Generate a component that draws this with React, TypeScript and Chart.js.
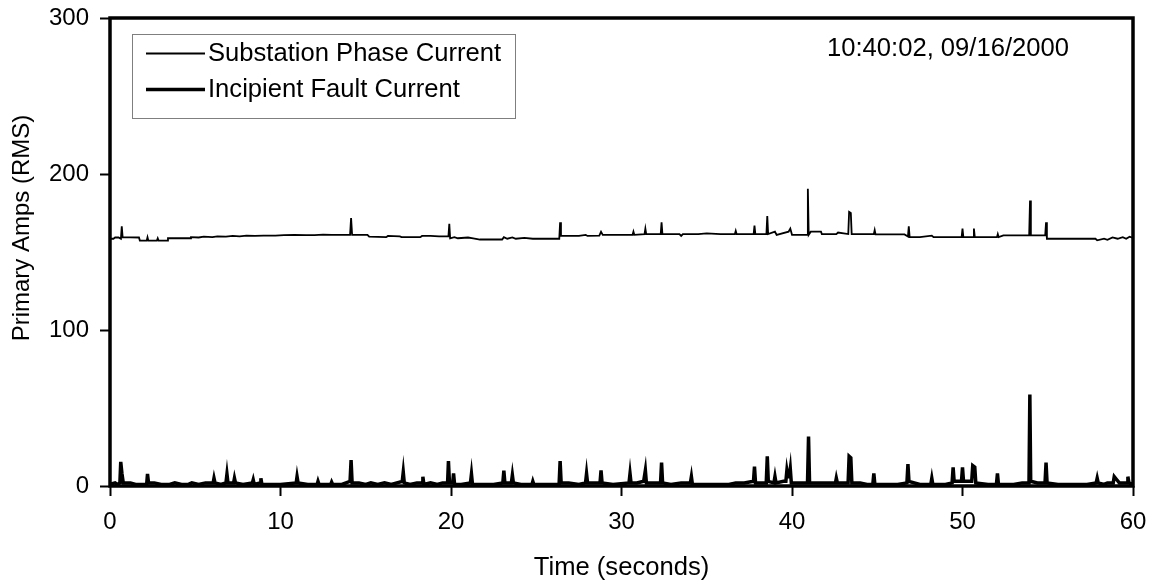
import React, { useEffect, useRef } from "react";
import { Chart, registerables } from "chart.js";

Chart.register(...registerables);

// Substation phase current (time in s, amps RMS)
const subTime = [
  0, 0.2, 0.3, 0.5, 0.64, 0.69, 0.74, 1.7, 1.75, 2.15, 2.2, 2.25, 2.75, 2.8, 2.85, 3.35, 3.4, 4.7, 4.75, 5.2,
  5.5, 6.0, 6.3, 6.8, 7.2, 7.6, 8.0, 8.5, 9.0, 9.7, 10.2, 10.8, 11.5, 12.0, 12.5, 13.0, 13.6, 14.08, 14.14, 14.2,
  15.1, 15.2, 16.2, 16.3, 17.0, 17.1, 18.2, 18.3, 18.8, 19.3, 19.85, 19.9, 19.95, 20.2, 20.4, 21.0, 21.3, 21.7, 23.0, 23.1,
  23.3, 23.6, 23.8, 24.3, 24.8, 26.35, 26.4, 26.45, 27.5, 27.9, 28.0, 28.7, 28.8, 28.9, 30.65, 30.7, 30.75, 31.35, 31.4, 31.45,
  32.3, 32.35, 32.4, 33.4, 33.5, 33.6, 34.5, 35.0, 35.8, 36.65, 36.7, 36.75, 37.75, 37.8, 37.85, 38.5, 38.55, 38.6, 39.0, 39.1,
  39.8, 39.9, 40.0, 40.88, 40.93, 40.98, 41.1, 41.7, 41.75, 42.6, 42.7, 43.3, 43.35, 43.45, 43.5, 44.8, 44.85, 44.9, 46.6, 46.8,
  46.85, 46.9, 47.5, 48.2, 48.3, 49.95, 50.0, 50.05, 50.62, 50.67, 50.72, 52.02, 52.07, 52.12, 52.4, 53.91, 53.96, 54.01, 54.85, 54.9,
  54.95, 57.8, 57.9, 58.3, 58.5, 58.8, 59.1, 59.4, 59.6, 59.8, 60.0,
];
const subAmps = [
  158.5, 158.5, 159.3, 159.3, 158.5, 166.5, 159.5, 159.3, 157.3, 157.3, 159.5, 157.3, 157.3, 158.8, 157.3, 157.3, 158.8, 158.8, 159.5, 159.3,
  159.8, 159.5, 160, 159.8, 160.3, 160, 160.5, 160.3, 160.5, 160.5, 160.8, 161, 160.8, 160.8, 161.2, 161, 161, 161, 171.8, 161,
  161, 159.8, 159.5, 160.3, 160, 159.5, 159.5, 160.3, 160.3, 160, 160, 168, 158.8, 159.5, 158.8, 159.3, 158.8, 158, 158, 159.5,
  158.5, 159.3, 158.5, 159, 158.5, 158.5, 169, 160.3, 160.3, 161, 160.3, 160.5, 163, 161, 161, 163, 161, 161.5, 165, 161.5,
  161.5, 169, 161.5, 161.5, 160.3, 161.5, 161.5, 162, 161.5, 161.5, 163.5, 161.5, 161.5, 167, 161.5, 161.5, 173, 161.5, 163, 161,
  163, 165, 161, 161, 190.6, 161, 163, 163, 161.5, 161.5, 162.5, 161.5, 175.7, 175, 161.5, 161.5, 164, 161.3, 161.3, 160,
  166.5, 159.5, 159.5, 160.5, 159.5, 159.5, 165, 159.5, 159.5, 165, 159.5, 159.5, 161.5, 159.5, 160.6, 160.6, 183, 160.6, 160.6, 169,
  158.5, 158.5, 157.5, 158.5, 157.8, 159.3, 158.5, 159.5, 158.5, 159.8, 159,
];

// Incipient fault current (time in s, amps RMS)
const faultTime = [
  0, 0.3, 0.45, 0.58, 0.63, 0.7, 0.78, 1.2, 1.5, 2.15, 2.2, 2.26, 2.6, 3.0, 3.5, 3.8, 4.2, 4.6, 4.8, 5.2,
  5.6, 6.05, 6.1, 6.16, 6.5, 6.8, 6.86, 6.92, 7.25, 7.3, 7.36, 7.8, 8.35, 8.4, 8.46, 8.8, 8.85, 8.91, 9.5, 10.0,
  10.92, 10.97, 11.03, 11.6, 12.15, 12.2, 12.26, 12.95, 13.0, 13.06, 13.6, 14.08, 14.14, 14.2, 14.6, 15.0, 15.3, 15.7, 16.1, 16.5,
  17.14, 17.2, 17.26, 17.6, 18.0, 18.3, 18.35, 18.41, 18.8, 19.2, 19.5, 19.8, 19.85, 19.91, 20.1, 20.15, 20.21, 20.6, 21.14, 21.2,
  21.26, 21.8, 22.5, 23.04, 23.1, 23.16, 23.54, 23.6, 23.66, 24.1, 24.5, 24.75, 24.8, 24.86, 25.5, 26.34, 26.4, 26.46, 26.9, 27.5,
  27.89, 27.95, 28.01, 28.5, 28.74, 28.8, 28.86, 29.5, 30.44, 30.5, 30.56, 30.9, 31.3, 31.4, 31.46, 31.9, 32.29, 32.35, 32.41, 32.9,
  33.5, 34.04, 34.1, 34.16, 34.8, 35.5, 36.3, 36.7, 37.2, 37.74, 37.8, 37.86, 38.2, 38.49, 38.55, 38.61, 38.94, 39.0, 39.06, 39.5,
  39.64, 39.7, 39.76, 39.84, 39.9, 39.96, 40.4, 40.91, 40.97, 41.03, 41.6, 42.2, 42.55, 42.6, 42.66, 43.1, 43.29, 43.35, 43.45, 43.51,
  44.0, 44.4, 44.74, 44.8, 44.86, 45.6, 46.2, 46.74, 46.8, 46.86, 47.5, 48.14, 48.2, 48.26, 49.0, 49.39, 49.45, 49.51, 49.94, 50.0,
  50.06, 50.54, 50.6, 50.72, 50.78, 51.5, 51.99, 52.05, 52.11, 53.0, 53.5, 53.9, 53.95, 54.0, 54.4, 54.84, 54.9, 54.96, 55.6, 56.5,
  57.3, 57.84, 57.9, 57.96, 58.3, 58.5, 58.84, 58.9, 59.05, 59.2, 59.6, 59.66, 59.7, 59.76, 60.0,
];
const faultAmps = [
  1, 2, 1, 2, 15.5, 8, 2, 2, 1, 1, 7.7, 2, 2, 1, 1, 2, 1, 1, 2, 1,
  2, 2, 5, 2, 1, 2, 7.7, 2, 2, 5, 2, 1, 2, 4, 1, 2, 5, 1, 1, 1,
  2, 6, 2, 1, 1, 3, 1, 1, 2.5, 1, 1, 3, 16.6, 2, 2, 1, 2, 1, 2, 1,
  3, 9, 2, 1, 2, 2, 6, 1, 2, 1, 2, 2, 16, 2, 2, 8, 1, 1, 2, 7.7,
  1, 1, 1, 2, 9.8, 2, 2, 7, 2, 1, 1, 1, 3, 1, 1, 1, 16, 2, 2, 1,
  2, 8, 2, 2, 2, 10, 2, 1, 2, 8, 2, 2, 3, 10, 2, 2, 2, 15, 2, 1,
  2, 2, 6, 1, 1, 1, 1, 2, 2, 3, 12.4, 2, 2, 2, 19, 3, 2, 6, 2, 3,
  3, 10, 6, 6, 11, 2, 2, 2, 31.7, 2, 2, 2, 2, 5, 2, 2, 2, 19, 18, 2,
  2, 1, 1, 8, 1, 1, 1, 2, 14, 3, 1, 1, 5, 1, 1, 2, 12, 3, 3, 12,
  3, 3, 13, 12, 2, 1, 1, 8, 1, 1, 2, 2, 58.7, 3, 2, 2, 15, 2, 1, 1,
  1, 2, 5, 2, 1, 2, 2, 6, 4, 2, 2, 2, 6, 2, 1,
];

const xTicks = [0, 10, 20, 30, 40, 50, 60];
const yTicks = [0, 100, 200, 300];

const seriesNames = ["Substation Phase Current", "Incipient Fault Current"];
const stampText = "10:40:02, 09/16/2000";
const xTitle = "Time (seconds)";
const yTitle = "Primary Amps (RMS)";

const FONT = "'Liberation Sans', Arial, sans-serif";

export default function App() {
  const ref = useRef<HTMLCanvasElement | null>(null);

  useEffect(() => {
    const canvas = ref.current;
    if (!canvas) return;

    const overlay = {
      id: "overlay",
      afterDatasetsDraw(chart: any) {
        const { ctx, chartArea } = chart;
        const { left, top, right, bottom } = chartArea;
        ctx.save();
        // plot frame
        ctx.strokeStyle = "#000";
        ctx.lineWidth = 3.5;
        ctx.strokeRect(left, top, right - left, bottom - top);

        // legend box
        ctx.fillStyle = "#fff";
        ctx.fillRect(132, 34, 383, 84);
        ctx.lineWidth = 1;
        ctx.strokeStyle = "#7f7f7f";
        ctx.strokeRect(132.5, 34.5, 383, 84);

        ctx.strokeStyle = "#000";
        ctx.lineWidth = 1.8;
        ctx.beginPath();
        ctx.moveTo(146, 53.5);
        ctx.lineTo(205, 53.5);
        ctx.stroke();
        ctx.lineWidth = 3.5;
        ctx.beginPath();
        ctx.moveTo(146, 89.5);
        ctx.lineTo(205, 89.5);
        ctx.stroke();

        ctx.fillStyle = "#000";
        ctx.font = `25.6px ${FONT}`;
        ctx.textAlign = "left";
        ctx.textBaseline = "middle";
        ctx.fillText(seriesNames[0], 208, 54);
        ctx.fillText(seriesNames[1], 208, 89.5);

        // time stamp
        ctx.fillText(stampText, 827, 48.5);

        // axis titles
        ctx.textAlign = "center";
        ctx.fillText(xTitle, (left + right) / 2, 568);
        ctx.font = `24px ${FONT}`;
        ctx.translate(22, 228);
        ctx.rotate(-Math.PI / 2);
        ctx.fillText(yTitle, 0, 0);
        ctx.restore();
      },
    };

    const chart = new Chart(canvas, {
      type: "line",
      data: {
        datasets: [
          {
            label: seriesNames[0],
            data: subTime.map((t, i) => ({ x: t, y: subAmps[i] })),
            borderColor: "#000",
            borderWidth: 1.8,
            pointRadius: 0,
            tension: 0,
            fill: false,
          },
          {
            label: seriesNames[1],
            data: faultTime.map((t, i) => ({ x: t, y: faultAmps[i] })),
            borderColor: "#000",
            borderWidth: 3.5,
            pointRadius: 0,
            tension: 0,
            fill: false,
          },
        ],
      },
      options: {
        responsive: false,
        animation: false,
        devicePixelRatio: 1,
        layout: { padding: { left: 0, top: 18, right: 25, bottom: 0 } },
        plugins: { legend: { display: false }, tooltip: { enabled: false } },
        scales: {
          x: {
            type: "linear",
            min: 0,
            max: 60,
            afterFit(scale: any) {
              scale.height = 101;
              scale.paddingLeft = 0;
              scale.paddingRight = 0;
            },
            afterBuildTicks(scale: any) {
              scale.ticks = xTicks.map((v) => ({ value: v }));
            },
            border: { display: false },
            grid: {
              drawOnChartArea: false,
              drawTicks: true,
              tickLength: 10,
              tickWidth: 2,
              tickColor: "#000",
            },
            ticks: {
              color: "#000",
              font: { family: FONT, size: 24 },
              padding: 12,
              maxRotation: 0,
            },
          },
          y: {
            type: "linear",
            min: 0,
            max: 300,
            afterFit(scale: any) {
              scale.width = 110;
              scale.paddingTop = 0;
              scale.paddingBottom = 0;
            },
            afterBuildTicks(scale: any) {
              scale.ticks = yTicks.map((v) => ({ value: v }));
            },
            border: { display: false },
            grid: {
              drawOnChartArea: false,
              drawTicks: true,
              tickLength: 10,
              tickWidth: 2,
              tickColor: "#000",
            },
            ticks: {
              color: "#000",
              font: { family: FONT, size: 24 },
              padding: 11,
            },
          },
        },
      },
      plugins: [overlay],
    });

    return () => chart.destroy();
  }, []);

  return (
    <div style={{ position: "absolute", left: 0, top: 0, width: 1158, height: 587, background: "#fff" }}>
      <canvas ref={ref} width={1158} height={587} style={{ display: "block" }} />
    </div>
  );
}
